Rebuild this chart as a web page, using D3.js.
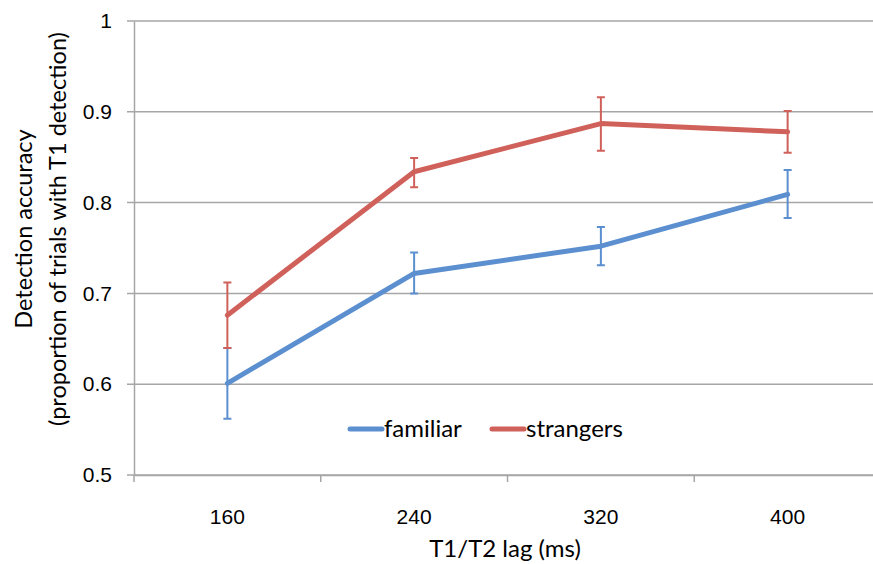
<!DOCTYPE html>
<html>
<head>
<meta charset="utf-8">
<script src="https://cdn.jsdelivr.net/npm/d3@7"></script>
<style>
  body { margin: 0; background: #fff; }
  svg { display: block; font-family: Lato, "Open Sans", sans-serif; }
</style>
</head>
<body>
<svg id="chart" width="873" height="564"></svg>
<script>
const lags = ["160", "240", "320", "400"];
const yTicks = [0.5, 0.6, 0.7, 0.8, 0.9, 1];

const familiar = [0.601, 0.722, 0.752, 0.809];
const familiarLo = [0.562, 0.700, 0.731, 0.783];
const familiarHi = [0.640, 0.745, 0.773, 0.836];

const strangers = [0.676, 0.834, 0.887, 0.878];
const strangersLo = [0.640, 0.817, 0.857, 0.855];
const strangersHi = [0.712, 0.849, 0.916, 0.901];

const series = [
  { name: "familiar", color: "#5b8fcf", mean: familiar, lo: familiarLo, hi: familiarHi },
  { name: "strangers", color: "#d0605a", mean: strangers, lo: strangersLo, hi: strangersHi }
];

const svg = d3.select("#chart");
const plotLeft = 134, plotRight = 881, plotTop = 21, plotBottom = 475;

const x = d3.scaleBand().domain(lags).range([plotLeft, plotRight]);
const y = d3.scaleLinear().domain([0.5, 1]).range([plotBottom, plotTop]);

// Gridlines
svg.append("g")
  .selectAll("line")
  .data(yTicks)
  .enter()
  .append("line")
  .attr("x1", plotLeft - 7)
  .attr("x2", 873)
  .attr("y1", d => y(d))
  .attr("y2", d => y(d))
  .attr("stroke", "#a6a6a6")
  .attr("stroke-width", 1.5);

// Y axis
const yAxis = svg.append("g")
  .attr("transform", `translate(${plotLeft},0)`)
  .call(d3.axisLeft(y).tickValues(yTicks).tickSize(0).tickPadding(22)
    .tickFormat(d => d === 1 ? "1" : d3.format(".1f")(d)));
yAxis.select(".domain").attr("stroke", "#a6a6a6").attr("stroke-width", 1.5);
yAxis.selectAll("text").attr("font-size", 21).attr("fill", "#000");

// X axis
const xAxis = svg.append("g")
  .attr("transform", `translate(0,${plotBottom})`)
  .call(d3.axisBottom(x).tickSize(0).tickPadding(34));
xAxis.select(".domain").attr("stroke", "#a6a6a6").attr("stroke-width", 1.5);
xAxis.selectAll("text").attr("font-size", 21).attr("fill", "#000");

// x tick marks at band boundaries
svg.append("g")
  .selectAll("line")
  .data(lags)
  .enter()
  .append("line")
  .attr("x1", d => x(d))
  .attr("x2", d => x(d))
  .attr("y1", plotBottom)
  .attr("y2", plotBottom + 7)
  .attr("stroke", "#a6a6a6")
  .attr("stroke-width", 1.5);

const cx = d => x(d) + x.bandwidth() / 2;

// Series
series.forEach(s => {
  const g = svg.append("g");
  g.selectAll(".err")
    .data(lags)
    .enter()
    .append("path")
    .attr("d", (d, i) => {
      const px = cx(d), cap = 4;
      return `M${px},${y(s.lo[i])}V${y(s.hi[i])}` +
        `M${px - cap},${y(s.lo[i])}H${px + cap}` +
        `M${px - cap},${y(s.hi[i])}H${px + cap}`;
    })
    .attr("fill", "none")
    .attr("stroke", s.color)
    .attr("stroke-width", 2);

  const line = d3.line().x((d, i) => cx(lags[i])).y(d => y(d));
  g.append("path")
    .datum(s.mean)
    .attr("d", line)
    .attr("fill", "none")
    .attr("stroke", s.color)
    .attr("stroke-width", 5)
    .attr("stroke-linejoin", "round")
    .attr("stroke-linecap", "round");
});

// Legend
const legendX = [350, 492];
series.forEach((s, i) => {
  const lg = svg.append("g").attr("transform", `translate(${legendX[i]},429)`);
  lg.append("line")
    .attr("x1", 0).attr("x2", 32)
    .attr("stroke", s.color)
    .attr("stroke-width", 5)
    .attr("stroke-linecap", "round");
  lg.append("text")
    .attr("x", 34)
    .attr("y", 8)
    .attr("font-size", 24)
    .text(s.name);
});

// Axis titles
svg.append("text")
  .attr("x", 505)
  .attr("y", 557)
  .attr("text-anchor", "middle")
  .attr("font-size", 24)
  .text("T1/T2 lag (ms)");

const yt = svg.append("text")
  .attr("transform", "translate(0,229) rotate(-90)")
  .attr("text-anchor", "middle")
  .attr("font-size", 23.5);
yt.append("tspan").attr("x", 0).attr("y", 32).text("Detection accuracy");
yt.append("tspan").attr("x", 0).attr("y", 66).text("(proportion of trials with T1 detection)");
</script>
</body>
</html>
